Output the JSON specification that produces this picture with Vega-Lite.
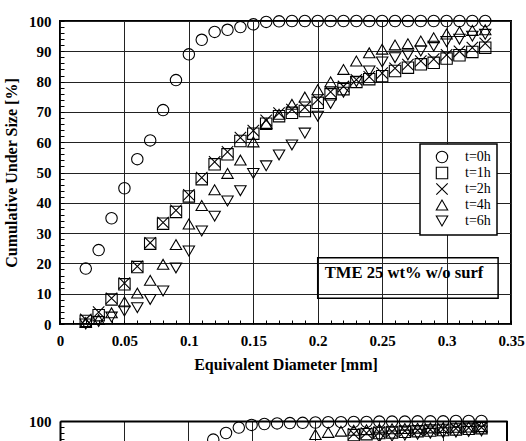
{
  "$schema": "https://vega.github.io/schema/vega-lite/v6.json",
  "padding": {"left": 2, "top": 12, "right": 2, "bottom": 0},
  "spacing": 40,
  "config": {
    "font": "Liberation Serif",
    "view": {"stroke": "black", "strokeWidth": 2},
    "axis": {
      "labelFont": "Liberation Serif",
      "labelFontWeight": "bold",
      "labelFontSize": 15,
      "labelColor": "black",
      "titleFont": "Liberation Serif",
      "titleFontWeight": "bold",
      "titleFontSize": 16,
      "titleColor": "black",
      "gridColor": "#222222",
      "gridWidth": 1,
      "tickColor": "black",
      "tickWidth": 1,
      "tickCount": 200,
      "labelFlush": false,
      "labelBound": false,
      "labelOverlap": false
    },
    "legend": {"strokeWidth": 1.5}
  },
  "datasets": {
    "top": [
      {"d": 0.02, "cum": 18.3, "t": "t=0h"}, {"d": 0.03, "cum": 24.4, "t": "t=0h"}, {"d": 0.04, "cum": 34.9, "t": "t=0h"}, {"d": 0.05, "cum": 44.8, "t": "t=0h"},
      {"d": 0.06, "cum": 54.4, "t": "t=0h"}, {"d": 0.07, "cum": 60.6, "t": "t=0h"}, {"d": 0.08, "cum": 70.6, "t": "t=0h"}, {"d": 0.09, "cum": 80.5, "t": "t=0h"},
      {"d": 0.10, "cum": 89.0, "t": "t=0h"}, {"d": 0.11, "cum": 93.8, "t": "t=0h"}, {"d": 0.12, "cum": 96.4, "t": "t=0h"}, {"d": 0.13, "cum": 97.1, "t": "t=0h"},
      {"d": 0.14, "cum": 98.0, "t": "t=0h"}, {"d": 0.15, "cum": 98.9, "t": "t=0h"}, {"d": 0.16, "cum": 99.7, "t": "t=0h"}, {"d": 0.17, "cum": 99.9, "t": "t=0h"},
      {"d": 0.18, "cum": 100, "t": "t=0h"}, {"d": 0.19, "cum": 100, "t": "t=0h"}, {"d": 0.20, "cum": 100, "t": "t=0h"}, {"d": 0.21, "cum": 100, "t": "t=0h"},
      {"d": 0.22, "cum": 100, "t": "t=0h"}, {"d": 0.23, "cum": 100, "t": "t=0h"}, {"d": 0.24, "cum": 100, "t": "t=0h"}, {"d": 0.25, "cum": 100, "t": "t=0h"},
      {"d": 0.26, "cum": 100, "t": "t=0h"}, {"d": 0.27, "cum": 100, "t": "t=0h"}, {"d": 0.28, "cum": 100, "t": "t=0h"}, {"d": 0.29, "cum": 100, "t": "t=0h"},
      {"d": 0.30, "cum": 100, "t": "t=0h"}, {"d": 0.31, "cum": 100, "t": "t=0h"}, {"d": 0.32, "cum": 100, "t": "t=0h"}, {"d": 0.33, "cum": 100, "t": "t=0h"},

      {"d": 0.02, "cum": 1.0, "t": "t=1h"}, {"d": 0.03, "cum": 2.9, "t": "t=1h"}, {"d": 0.04, "cum": 8.1, "t": "t=1h"}, {"d": 0.05, "cum": 13.1, "t": "t=1h"},
      {"d": 0.06, "cum": 18.8, "t": "t=1h"}, {"d": 0.07, "cum": 26.5, "t": "t=1h"}, {"d": 0.08, "cum": 33.1, "t": "t=1h"}, {"d": 0.09, "cum": 37.0, "t": "t=1h"},
      {"d": 0.10, "cum": 42.1, "t": "t=1h"}, {"d": 0.11, "cum": 47.8, "t": "t=1h"}, {"d": 0.12, "cum": 52.7, "t": "t=1h"}, {"d": 0.13, "cum": 56.0, "t": "t=1h"},
      {"d": 0.14, "cum": 60.4, "t": "t=1h"}, {"d": 0.15, "cum": 62.8, "t": "t=1h"}, {"d": 0.16, "cum": 66.1, "t": "t=1h"}, {"d": 0.17, "cum": 68.6, "t": "t=1h"},
      {"d": 0.18, "cum": 69.7, "t": "t=1h"}, {"d": 0.19, "cum": 70.3, "t": "t=1h"}, {"d": 0.20, "cum": 73.0, "t": "t=1h"}, {"d": 0.21, "cum": 75.8, "t": "t=1h"},
      {"d": 0.22, "cum": 77.5, "t": "t=1h"}, {"d": 0.23, "cum": 79.9, "t": "t=1h"}, {"d": 0.24, "cum": 80.8, "t": "t=1h"}, {"d": 0.25, "cum": 81.8, "t": "t=1h"},
      {"d": 0.26, "cum": 83.5, "t": "t=1h"}, {"d": 0.27, "cum": 84.6, "t": "t=1h"}, {"d": 0.28, "cum": 85.7, "t": "t=1h"}, {"d": 0.29, "cum": 86.2, "t": "t=1h"},
      {"d": 0.30, "cum": 87.6, "t": "t=1h"}, {"d": 0.31, "cum": 88.7, "t": "t=1h"}, {"d": 0.32, "cum": 89.8, "t": "t=1h"}, {"d": 0.33, "cum": 91.2, "t": "t=1h"},

      {"d": 0.02, "cum": 1.5, "t": "t=2h"}, {"d": 0.03, "cum": 3.9, "t": "t=2h"}, {"d": 0.04, "cum": 8.5, "t": "t=2h"}, {"d": 0.05, "cum": 13.5, "t": "t=2h"},
      {"d": 0.06, "cum": 19.0, "t": "t=2h"}, {"d": 0.07, "cum": 26.8, "t": "t=2h"}, {"d": 0.08, "cum": 33.5, "t": "t=2h"}, {"d": 0.09, "cum": 37.5, "t": "t=2h"},
      {"d": 0.10, "cum": 42.6, "t": "t=2h"}, {"d": 0.11, "cum": 48.3, "t": "t=2h"}, {"d": 0.12, "cum": 53.5, "t": "t=2h"}, {"d": 0.13, "cum": 56.8, "t": "t=2h"},
      {"d": 0.14, "cum": 61.5, "t": "t=2h"}, {"d": 0.15, "cum": 63.8, "t": "t=2h"}, {"d": 0.16, "cum": 67.2, "t": "t=2h"}, {"d": 0.17, "cum": 69.6, "t": "t=2h"},
      {"d": 0.18, "cum": 70.8, "t": "t=2h"}, {"d": 0.19, "cum": 71.5, "t": "t=2h"}, {"d": 0.20, "cum": 74.0, "t": "t=2h"}, {"d": 0.21, "cum": 76.6, "t": "t=2h"},
      {"d": 0.22, "cum": 78.4, "t": "t=2h"}, {"d": 0.23, "cum": 80.6, "t": "t=2h"}, {"d": 0.24, "cum": 81.6, "t": "t=2h"}, {"d": 0.25, "cum": 82.8, "t": "t=2h"},
      {"d": 0.26, "cum": 84.4, "t": "t=2h"}, {"d": 0.27, "cum": 85.6, "t": "t=2h"}, {"d": 0.28, "cum": 86.8, "t": "t=2h"}, {"d": 0.29, "cum": 87.4, "t": "t=2h"},
      {"d": 0.30, "cum": 88.8, "t": "t=2h"}, {"d": 0.31, "cum": 90.0, "t": "t=2h"}, {"d": 0.32, "cum": 91.2, "t": "t=2h"}, {"d": 0.33, "cum": 92.6, "t": "t=2h"},

      {"d": 0.02, "cum": 0.5, "t": "t=4h"}, {"d": 0.03, "cum": 1.5, "t": "t=4h"}, {"d": 0.04, "cum": 3.7, "t": "t=4h"}, {"d": 0.05, "cum": 7.3, "t": "t=4h"},
      {"d": 0.06, "cum": 10.2, "t": "t=4h"}, {"d": 0.07, "cum": 14.4, "t": "t=4h"}, {"d": 0.08, "cum": 19.7, "t": "t=4h"}, {"d": 0.09, "cum": 26.2, "t": "t=4h"},
      {"d": 0.10, "cum": 33.0, "t": "t=4h"}, {"d": 0.11, "cum": 39.1, "t": "t=4h"}, {"d": 0.12, "cum": 44.3, "t": "t=4h"}, {"d": 0.13, "cum": 49.7, "t": "t=4h"},
      {"d": 0.14, "cum": 54.1, "t": "t=4h"}, {"d": 0.15, "cum": 60.1, "t": "t=4h"}, {"d": 0.16, "cum": 66.2, "t": "t=4h"}, {"d": 0.17, "cum": 69.2, "t": "t=4h"},
      {"d": 0.18, "cum": 72.5, "t": "t=4h"}, {"d": 0.19, "cum": 74.9, "t": "t=4h"}, {"d": 0.20, "cum": 77.3, "t": "t=4h"}, {"d": 0.21, "cum": 79.9, "t": "t=4h"},
      {"d": 0.22, "cum": 84.0, "t": "t=4h"}, {"d": 0.23, "cum": 86.8, "t": "t=4h"}, {"d": 0.24, "cum": 89.5, "t": "t=4h"}, {"d": 0.25, "cum": 90.7, "t": "t=4h"},
      {"d": 0.26, "cum": 92.1, "t": "t=4h"}, {"d": 0.27, "cum": 92.5, "t": "t=4h"}, {"d": 0.28, "cum": 93.4, "t": "t=4h"}, {"d": 0.29, "cum": 94.5, "t": "t=4h"},
      {"d": 0.30, "cum": 95.7, "t": "t=4h"}, {"d": 0.31, "cum": 96.5, "t": "t=4h"}, {"d": 0.32, "cum": 96.9, "t": "t=4h"}, {"d": 0.33, "cum": 97.1, "t": "t=4h"},

      {"d": 0.02, "cum": 0.0, "t": "t=6h"}, {"d": 0.03, "cum": 0.8, "t": "t=6h"}, {"d": 0.04, "cum": 2.3, "t": "t=6h"}, {"d": 0.05, "cum": 4.3, "t": "t=6h"},
      {"d": 0.06, "cum": 5.4, "t": "t=6h"}, {"d": 0.07, "cum": 8.1, "t": "t=6h"}, {"d": 0.08, "cum": 10.9, "t": "t=6h"}, {"d": 0.09, "cum": 18.5, "t": "t=6h"},
      {"d": 0.10, "cum": 24.1, "t": "t=6h"}, {"d": 0.11, "cum": 30.7, "t": "t=6h"}, {"d": 0.12, "cum": 35.6, "t": "t=6h"}, {"d": 0.13, "cum": 40.6, "t": "t=6h"},
      {"d": 0.14, "cum": 44.0, "t": "t=6h"}, {"d": 0.15, "cum": 49.7, "t": "t=6h"}, {"d": 0.16, "cum": 52.2, "t": "t=6h"}, {"d": 0.17, "cum": 55.8, "t": "t=6h"},
      {"d": 0.18, "cum": 59.1, "t": "t=6h"}, {"d": 0.19, "cum": 63.0, "t": "t=6h"}, {"d": 0.20, "cum": 68.6, "t": "t=6h"}, {"d": 0.21, "cum": 72.8, "t": "t=6h"},
      {"d": 0.22, "cum": 76.5, "t": "t=6h"}, {"d": 0.23, "cum": 80.0, "t": "t=6h"}, {"d": 0.24, "cum": 83.5, "t": "t=6h"}, {"d": 0.25, "cum": 86.5, "t": "t=6h"},
      {"d": 0.26, "cum": 87.9, "t": "t=6h"}, {"d": 0.27, "cum": 88.8, "t": "t=6h"}, {"d": 0.28, "cum": 90.1, "t": "t=6h"}, {"d": 0.29, "cum": 91.7, "t": "t=6h"},
      {"d": 0.30, "cum": 93.2, "t": "t=6h"}, {"d": 0.31, "cum": 94.0, "t": "t=6h"}, {"d": 0.32, "cum": 95.0, "t": "t=6h"}, {"d": 0.33, "cum": 95.6, "t": "t=6h"}
    ],
    "bottom": [
      {"d": 0.12, "cum": 93.8, "t": "t=0h"}, {"d": 0.13, "cum": 96.0, "t": "t=0h"}, {"d": 0.14, "cum": 97.8, "t": "t=0h"}, {"d": 0.15, "cum": 98.7, "t": "t=0h"},
      {"d": 0.16, "cum": 99.0, "t": "t=0h"}, {"d": 0.17, "cum": 99.2, "t": "t=0h"}, {"d": 0.18, "cum": 99.3, "t": "t=0h"}, {"d": 0.19, "cum": 99.4, "t": "t=0h"},
      {"d": 0.20, "cum": 99.5, "t": "t=0h"}, {"d": 0.21, "cum": 99.6, "t": "t=0h"}, {"d": 0.22, "cum": 99.6, "t": "t=0h"}, {"d": 0.23, "cum": 99.7, "t": "t=0h"},
      {"d": 0.24, "cum": 99.7, "t": "t=0h"}, {"d": 0.25, "cum": 99.8, "t": "t=0h"}, {"d": 0.26, "cum": 99.8, "t": "t=0h"}, {"d": 0.27, "cum": 99.8, "t": "t=0h"},
      {"d": 0.28, "cum": 99.9, "t": "t=0h"}, {"d": 0.29, "cum": 99.9, "t": "t=0h"}, {"d": 0.30, "cum": 99.9, "t": "t=0h"}, {"d": 0.31, "cum": 100, "t": "t=0h"},
      {"d": 0.32, "cum": 100, "t": "t=0h"}, {"d": 0.33, "cum": 100, "t": "t=0h"},
      {"d": 0.23, "cum": 95.3, "t": "t=1h"}, {"d": 0.24, "cum": 95.6, "t": "t=1h"}, {"d": 0.25, "cum": 96.0, "t": "t=1h"}, {"d": 0.26, "cum": 96.2, "t": "t=1h"},
      {"d": 0.27, "cum": 96.4, "t": "t=1h"}, {"d": 0.28, "cum": 96.6, "t": "t=1h"}, {"d": 0.29, "cum": 96.8, "t": "t=1h"}, {"d": 0.30, "cum": 97.0, "t": "t=1h"},
      {"d": 0.31, "cum": 97.2, "t": "t=1h"}, {"d": 0.32, "cum": 97.4, "t": "t=1h"}, {"d": 0.33, "cum": 97.6, "t": "t=1h"},
      {"d": 0.23, "cum": 95.7, "t": "t=2h"}, {"d": 0.24, "cum": 96.0, "t": "t=2h"}, {"d": 0.25, "cum": 96.3, "t": "t=2h"}, {"d": 0.26, "cum": 96.5, "t": "t=2h"},
      {"d": 0.27, "cum": 96.7, "t": "t=2h"}, {"d": 0.28, "cum": 96.9, "t": "t=2h"}, {"d": 0.29, "cum": 97.1, "t": "t=2h"}, {"d": 0.30, "cum": 97.3, "t": "t=2h"},
      {"d": 0.31, "cum": 97.5, "t": "t=2h"}, {"d": 0.32, "cum": 97.7, "t": "t=2h"}, {"d": 0.33, "cum": 97.9, "t": "t=2h"},
      {"d": 0.20, "cum": 95.5, "t": "t=4h"}, {"d": 0.21, "cum": 96.2, "t": "t=4h"}, {"d": 0.22, "cum": 96.6, "t": "t=4h"}, {"d": 0.23, "cum": 96.9, "t": "t=4h"},
      {"d": 0.24, "cum": 97.1, "t": "t=4h"}, {"d": 0.25, "cum": 97.3, "t": "t=4h"}, {"d": 0.26, "cum": 97.4, "t": "t=4h"}, {"d": 0.27, "cum": 97.5, "t": "t=4h"},
      {"d": 0.28, "cum": 97.6, "t": "t=4h"}, {"d": 0.29, "cum": 97.7, "t": "t=4h"}, {"d": 0.30, "cum": 97.8, "t": "t=4h"}, {"d": 0.31, "cum": 97.9, "t": "t=4h"},
      {"d": 0.32, "cum": 98.0, "t": "t=4h"}, {"d": 0.33, "cum": 98.1, "t": "t=4h"},
      {"d": 0.25, "cum": 94.6, "t": "t=6h"}, {"d": 0.26, "cum": 95.0, "t": "t=6h"}, {"d": 0.27, "cum": 95.3, "t": "t=6h"}, {"d": 0.28, "cum": 95.6, "t": "t=6h"},
      {"d": 0.29, "cum": 95.9, "t": "t=6h"}, {"d": 0.30, "cum": 96.1, "t": "t=6h"}, {"d": 0.31, "cum": 96.3, "t": "t=6h"}, {"d": 0.32, "cum": 96.5, "t": "t=6h"},
      {"d": 0.33, "cum": 96.7, "t": "t=6h"}
    ]
  },
  "vconcat": [
    {
      "width": 451,
      "height": 303,
      "layer": [
        {
          "data": {"name": "top"},
          "mark": {"type": "point", "filled": false, "size": 130, "strokeWidth": 1.1, "color": "black", "opacity": 1},
          "encoding": {
            "x": {
              "field": "d", "type": "quantitative",
              "scale": {"domain": [0, 0.35], "nice": false, "zero": false},
              "axis": {
                "title": "Equivalent Diameter [mm]",
                "values": [0, 0.01, 0.02, 0.03, 0.04, 0.05, 0.06, 0.07, 0.08, 0.09, 0.1, 0.11, 0.12, 0.13, 0.14, 0.15, 0.16, 0.17, 0.18, 0.19, 0.2, 0.21, 0.22, 0.23, 0.24, 0.25, 0.26, 0.27, 0.28, 0.29, 0.3, 0.31, 0.32, 0.33, 0.34, 0.35],
                "tickCount": 200,
                "labelOverlap": false,
                "labelExpr": "abs(round(datum.value * 100) % 5) == 0 ? '' + round(datum.value * 100) / 100 : ''",
                "domain": false,
                "tickSize": -4,
                "labelPadding": 13,
                "titlePadding": 8,
                "grid": true,
                "gridOpacity": {"condition": {"test": "abs(round(datum.value * 100) % 5) == 0", "value": 1}, "value": 0}
              }
            },
            "y": {
              "field": "cum", "type": "quantitative",
              "scale": {"domain": [0, 100], "nice": false, "zero": false},
              "axis": {
                "title": "Cumulative Under Size [%]",
                "values": [0, 2, 4, 6, 8, 10, 12, 14, 16, 18, 20, 22, 24, 26, 28, 30, 32, 34, 36, 38, 40, 42, 44, 46, 48, 50, 52, 54, 56, 58, 60, 62, 64, 66, 68, 70, 72, 74, 76, 78, 80, 82, 84, 86, 88, 90, 92, 94, 96, 98, 100],
                "tickCount": 200,
                "labelOverlap": false,
                "labelExpr": "datum.value % 10 == 0 ? '' + datum.value : ''",
                "domain": false,
                "tickSize": -4,
                "labelPadding": 13,
                "titlePadding": 9,
                "grid": true,
                "gridOpacity": {"condition": {"test": "datum.value % 10 == 0", "value": 1}, "value": 0}
              }
            },
            "shape": {
              "field": "t", "type": "nominal",
              "scale": {
                "domain": ["t=0h", "t=1h", "t=2h", "t=4h", "t=6h"],
                "range": ["circle", "square", "M-1,-1L1,1M1,-1L-1,1", "triangle-up", "triangle-down"]
              },
              "legend": {
                "title": null,
                "orient": "none",
                "legendX": 360,
                "legendY": 123,
                "fillColor": "white",
                "strokeColor": "black",
                "padding": 6,
                "labelFont": "Liberation Serif",
                "labelFontSize": 14,
                "labelFontWeight": "normal",
                "labelColor": "black",
                "symbolStrokeColor": "black",
                "symbolStrokeWidth": 1.1,
                "symbolSize": 130,
                "symbolOffset": 9,
                "labelOffset": 16,
                "rowPadding": 0
              }
            }
          }
        },
        {
          "data": {"values": [{"label": "TME 25 wt% w/o surf"}]},
          "mark": {"type": "rect", "fillOpacity": 0, "stroke": "black", "strokeWidth": 1.5},
          "encoding": {
            "x": {"datum": 0.2},
            "x2": {"datum": 0.34},
            "y": {"datum": 8.5},
            "y2": {"datum": 21.9}
          }
        },
        {
          "data": {"values": [{"label": "TME 25 wt% w/o surf"}]},
          "mark": {"type": "text", "font": "Liberation Serif", "fontWeight": "bold", "fontSize": 16.6, "color": "black", "align": "center", "baseline": "middle"},
          "encoding": {
            "x": {"datum": 0.267},
            "y": {"datum": 16.8},
            "text": {"field": "label"}
          }
        }
      ]
    },
    {
      "width": 447,
      "height": 21,
      "view": {"stroke": null},
      "layer": [
        {
          "data": {"name": "bottom"},
          "transform": [{"filter": "datum.cum >= 95"}],
          "mark": {"type": "point", "filled": false, "size": 130, "strokeWidth": 1.1, "color": "black", "opacity": 1},
          "encoding": {
            "x": {
              "field": "d", "type": "quantitative",
              "scale": {"domain": [0, 0.35], "nice": false, "zero": false},
              "axis": {
                "orient": "top",
                "title": null,
                "values": [0, 0.05, 0.1, 0.15, 0.2, 0.25, 0.3, 0.35],
                "tickCount": 200,
                "labels": false,
                "ticks": false,
                "domain": true,
                "domainColor": "black",
                "domainWidth": 2,
                "grid": true
              }
            },
            "y": {
              "field": "cum", "type": "quantitative",
              "scale": {"domain": [93, 100], "nice": false, "zero": false},
              "axis": {
                "title": null,
                "values": [94, 96, 98, 100],
                "tickCount": 200,
                "labelOverlap": false,
                "labelExpr": "datum.value == 100 ? '100' : ''",
                "domain": true,
                "domainColor": "black",
                "domainWidth": 2,
                "tickSize": -4,
                "labelPadding": 13,
                "grid": false
              }
            },
            "shape": {
              "field": "t", "type": "nominal",
              "scale": {
                "domain": ["t=0h", "t=1h", "t=2h", "t=4h", "t=6h"],
                "range": ["circle", "square", "M-1,-1L1,1M1,-1L-1,1", "triangle-up", "triangle-down"]
              },
              "legend": null
            }
          }
        },
        {
          "data": {"name": "bottom"},
          "transform": [{"filter": "datum.cum < 95"}],
          "mark": {"type": "point", "filled": false, "size": 130, "strokeWidth": 1.1, "color": "black", "opacity": 1, "clip": true},
          "encoding": {
            "x": {"field": "d", "type": "quantitative"},
            "y": {"field": "cum", "type": "quantitative"},
            "shape": {"field": "t", "type": "nominal", "legend": null}
          }
        },
        {
          "data": {"values": [{"edge": "right"}]},
          "mark": {"type": "rule", "strokeWidth": 2, "color": "black"},
          "encoding": {"x": {"datum": 0.35}}
        }
      ]
    }
  ]
}
